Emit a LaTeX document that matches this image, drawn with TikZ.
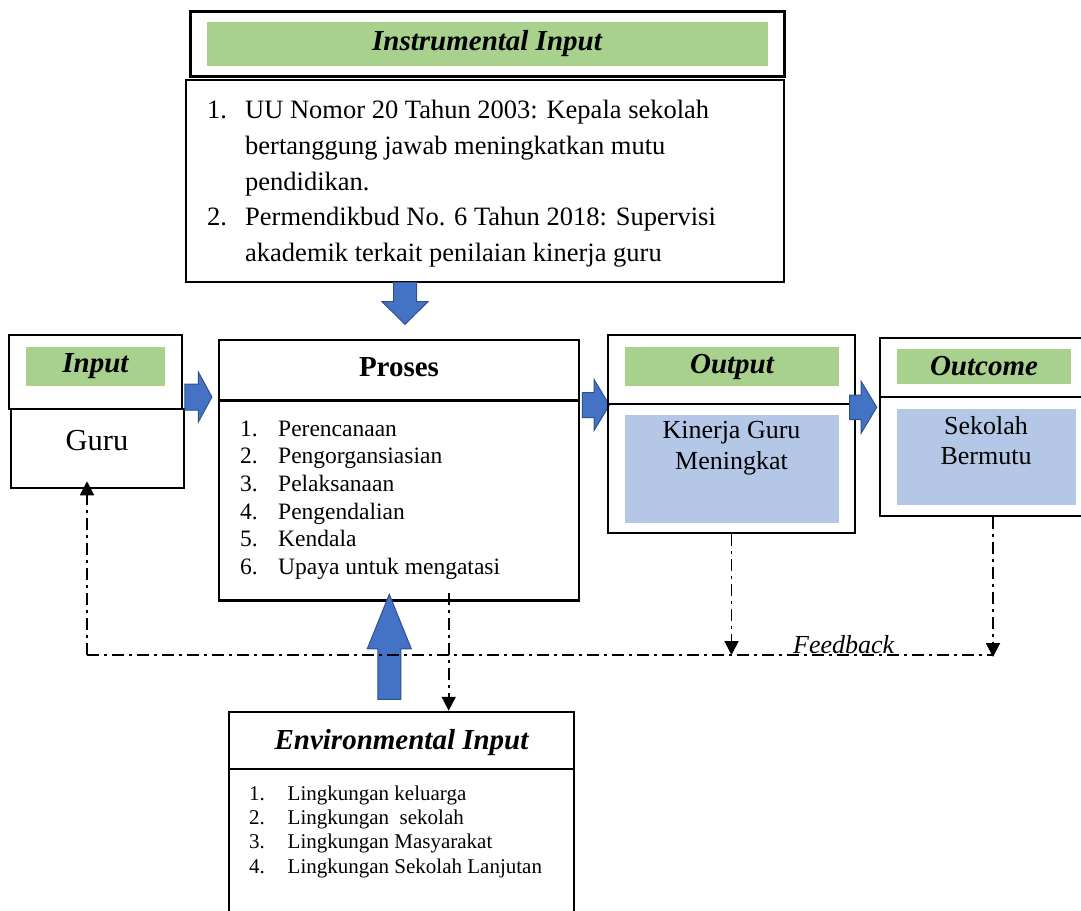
\documentclass[tikz,border=0pt]{standalone}
\usepackage{fontspec}
\setmainfont{Liberation Serif}
\usetikzlibrary{arrows.meta,shapes.arrows,calc}
\definecolor{hijau}{HTML}{A9D18E}
\definecolor{biru}{HTML}{B4C7E7}
\definecolor{birutua}{HTML}{4472C4}
\definecolor{garisbiru}{HTML}{2F528F}
\newcommand{\hurufjudul}{\fontsize{29}{34}\selectfont\bfseries\itshape}

\begin{document}
\begin{tikzpicture}[x=1pt,y=-1pt,
    kotak/.style={draw, line width=2.5pt, inner sep=0pt},
    isi/.style={inner sep=0pt},
    panah/.style={single arrow, fill=birutua, draw=garisbiru, line width=1pt,
        inner xsep=0pt, single arrow head indent=0pt},
    garisputus/.style={line width=1.8pt, dash pattern=on 12pt off 5pt on 3pt off 5pt},
    putus/.style={garisputus, -{Triangle[length=14pt,width=14pt]}}]
        \useasboundingbox (0,0) rectangle (1081,910);

        % instrumental input
        \node[kotak, line width=3pt, minimum width=594pt, minimum height=65pt] (instrKepala) at (487.5,43.5) {};
        \node[isi, fill=hijau, minimum width=561pt, minimum height=44pt, font=\hurufjudul] (instrJudul) at (487,44) {Instrumental Input};
        \node[kotak, minimum width=598pt, minimum height=202pt] (instrIsi) at (485,181) {};
        \node[isi, anchor=north west, font=\fontsize{26.5}{35.8}\selectfont] (instrDaftar) at (207,93.2) {%
            \begin{tabular}{@{}p{38pt}@{}l@{}}
            1. & UU Nomor 20 Tahun 2003: Kepala sekolah\\
               & bertanggung jawab meningkatkan mutu\\
               & pendidikan.\\
            2. & Permendikbud No. 6 Tahun 2018: Supervisi\\
               & akademik terkait penilaian kinerja guru
            \end{tabular}};
        \node[panah, rotate=-90, anchor=tip, minimum height=42pt, inner ysep=11pt,
            single arrow head extend=11.5pt, single arrow tip angle=91] (panahInstr) at (405,325) {};

        % input
        \node[kotak, minimum width=173pt, minimum height=74pt] (inKepala) at (95.5,372) {};
        \node[isi, fill=hijau, minimum width=139pt, minimum height=39pt, font=\hurufjudul] (inJudul) at (95.5,366.5) {Input};
        \node[kotak, minimum width=173pt, minimum height=79pt] (inIsi) at (97.3,448.5) {};
        \node[isi, font=\fontsize{30.5}{36}\selectfont] (guru) at (97,440.8) {Guru};
        \node[panah, anchor=tip, minimum height=27pt, inner ysep=12.5pt,
            single arrow head extend=12pt, single arrow tip angle=123] (panahInput) at (212.5,397) {};

        % proses
        \node[kotak, minimum width=360pt, minimum height=60pt] (prKepala) at (399,370) {};
        \node[isi, font=\fontsize{29}{34}\selectfont\bfseries] (prJudul) at (399,367.5) {Proses};
        \node[kotak, minimum width=360pt, minimum height=200pt] (prIsi) at (399,500.3) {};
        \node[isi, anchor=north west, font=\fontsize{23.5}{27.6}\selectfont] (prDaftar) at (240,416.7) {%
            \begin{tabular}{@{}p{38pt}@{}l@{}}
            1. & Perencanaan\\
            2. & Pengorgansiasian\\
            3. & Pelaksanaan\\
            4. & Pengendalian\\
            5. & Kendala\\
            6. & Upaya untuk mengatasi
            \end{tabular}};
        \node[panah, anchor=tip, minimum height=27pt, inner ysep=12pt,
            single arrow head extend=13pt, single arrow tip angle=118] (panahProses) at (610,405) {};

        % output
        \node[kotak, minimum width=247pt, minimum height=69pt] (outKepala) at (731.5,369.5) {};
        \node[isi, fill=hijau, minimum width=214pt, minimum height=39pt, font=\hurufjudul] (outJudul) at (732,366.5) {Output};
        \node[kotak, minimum width=247pt, minimum height=129pt] (outIsi) at (731.5,468.5) {};
        \node[isi, fill=biru, minimum width=214pt, minimum height=108pt] (outBiru) at (732,469) {};
        \node[isi, align=center, anchor=north, font=\fontsize{26}{31.5}\selectfont] (outTeks) at (731.5,421) {Kinerja Guru\\Meningkat};
        \node[panah, anchor=tip, minimum height=27pt, inner ysep=11.7pt,
            single arrow head extend=13.6pt, single arrow tip angle=118] (panahOutput) at (877.3,407.3) {};

        % outcome
        \node[kotak, minimum width=210pt, minimum height=59pt] (ocKepala) at (985,367.5) {};
        \node[isi, fill=hijau, minimum width=174pt, minimum height=35pt, font=\hurufjudul] (ocJudul) at (984,366.5) {Outcome};
        \node[kotak, minimum width=210pt, minimum height=119pt] (ocIsi) at (985,456.5) {};
        \node[isi, fill=biru, minimum width=179pt, minimum height=96pt] (ocBiru) at (986.5,457) {};
        \node[isi, align=center, anchor=north, font=\fontsize{26}{30}\selectfont] (ocTeks) at (986,416) {Sekolah\\Bermutu};

        % environmental input
        \node[kotak, minimum width=345pt, minimum height=57pt] (envKepala) at (401.5,740.5) {};
        \node[isi, font=\hurufjudul] (envJudul) at (401.5,743) {Environmental Input};
        \node[kotak, minimum width=345pt, minimum height=151pt] (envIsi) at (401.5,844.5) {};
        \node[isi, anchor=north west, font=\fontsize{21}{24.3}\selectfont] (envDaftar) at (249,783) {%
            \begin{tabular}{@{}p{38.5pt}@{}l@{}}
            1. & Lingkungan keluarga\\
            2. & Lingkungan \ sekolah\\
            3. & Lingkungan Masyarakat\\
            4. & Lingkungan Sekolah Lanjutan
            \end{tabular}};
        \node[panah, rotate=90, anchor=tip, minimum height=105pt, inner ysep=11pt,
            single arrow head extend=10.5pt, single arrow tip angle=44] (panahLingk) at (389.3,593) {};

        % feedback
        \coordinate (fbKiri) at (87,655);
        \coordinate (fbKanan) at (993,655);
        \coordinate (turun) at (448.7,593);
        \draw[garisputus] (fbKiri) -- (fbKanan);
        \draw[putus] (fbKiri) -- ($(fbKiri |- inIsi.south)+(0,-8)$);
        \draw[putus] (outIsi.south) -- (outIsi.south |- fbKiri);
        \draw[putus] (fbKanan |- ocIsi.south) -- ($(fbKanan)+(0,2)$);
        \draw[putus] (turun) -- (turun |- envKepala.north);
        \node[isi, anchor=base west, font=\fontsize{26}{30}\selectfont\itshape] (fbTeks) at (793,653) {Feedback};
    \end{tikzpicture}
\end{document}
